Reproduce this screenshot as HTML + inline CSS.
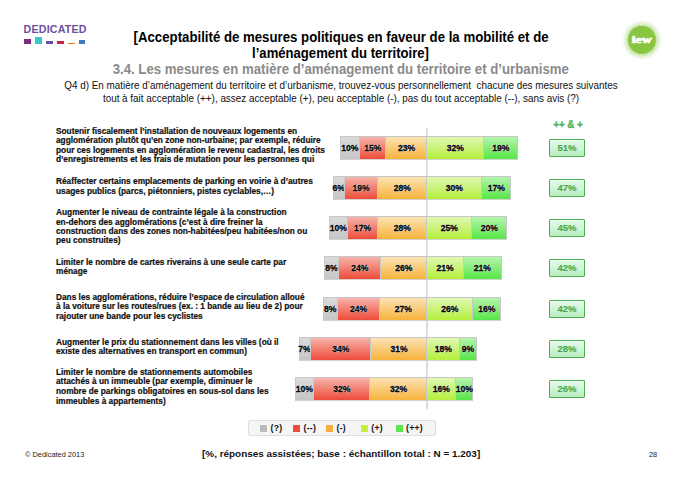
<!DOCTYPE html>
<html><head><meta charset="utf-8">
<style>
html,body{margin:0;padding:0;background:#fff;}
body{width:680px;height:477px;position:relative;overflow:hidden;font-family:"Liberation Sans",sans-serif;color:#000;}
.abs{position:absolute;white-space:nowrap;}
.logo{position:absolute;left:23.6px;top:23.9px;font-size:10.65px;line-height:10.65px;font-weight:bold;color:#6c509f;letter-spacing:0.19px;}
.sq{position:absolute;}
.title{position:absolute;left:0;width:681px;text-align:center;transform:scaleY(1.08);transform-origin:50% 3px;top:28.9px;font-size:13.1px;line-height:15.5px;font-weight:bold;white-space:nowrap;}
.sub{position:absolute;left:0;width:681.5px;text-align:center;top:62.8px;transform:scaleY(1.12);transform-origin:50% 11.2px;font-size:13.23px;line-height:13.23px;font-weight:bold;color:#8a8a8a;white-space:nowrap;}
.q{position:absolute;left:0;width:682px;text-align:center;top:79.5px;transform:scaleY(1.06);transform-origin:50% 3px;font-size:9.9px;line-height:12.3px;color:#111;white-space:nowrap;}
.vline{position:absolute;left:426px;top:128px;width:2px;height:281px;background:#dcdcdc;}
.seg{position:absolute;box-sizing:border-box;border:1px solid #c8c8c8;border-bottom-color:#d2d2d2;}
.pct{position:absolute;height:24px;line-height:25.4px;text-align:center;font-size:8.6px;font-weight:bold;color:#000;-webkit-text-stroke:0.3px #000;text-shadow:0 0 1.5px #fff,0 0 1px #fff;}
.g{background:linear-gradient(#dadada,#c6c6c6);}
.r{background:linear-gradient(#f6b3aa,#ee4c3a);}
.o{background:linear-gradient(#fde3b4,#f7b33c);}
.lg{background:linear-gradient(#e0f8b4,#b4ef3c);}
.gr{background:linear-gradient(#b4f4ac,#58e648);}
.hdr{position:absolute;left:540px;width:56px;text-align:center;top:119.2px;font-size:10px;letter-spacing:-0.1px;-webkit-text-stroke:0.25px #4fae52;line-height:11px;font-weight:bold;color:#4fae52;}
.tot span{display:inline-block;transform:scaleY(1.01);transform-origin:50% 70%;}
.tot{position:absolute;left:549px;width:36px;height:17.6px;box-sizing:border-box;border:1.5px solid #4cae50;border-radius:1px;background:linear-gradient(#e4fbe9,#d2f5d9 45%,#b9ebc0);box-shadow:inset 0 1px 0 rgba(255,255,255,0.6);padding-top:0.8px;text-align:center;font-size:9.5px;line-height:14.5px;font-weight:bold;color:#48aa4c;-webkit-text-stroke:0.15px #48aa4c;}
.lab{position:absolute;left:56px;font-size:8.3px;line-height:10px;font-weight:bold;white-space:nowrap;color:#111;-webkit-text-stroke:0.2px #111;}
.legend{position:absolute;left:247.8px;top:419.7px;width:188.5px;height:16.2px;box-sizing:border-box;border:1px solid #dedede;border-radius:2px;background:#f5f5f5;}
.lsq{position:absolute;top:425px;width:7px;height:7px;}
.ltx{position:absolute;top:423.3px;font-size:8.7px;line-height:11px;font-weight:bold;color:#111;letter-spacing:0.25px;}
.foot{position:absolute;font-size:7.4px;line-height:8px;color:#333;white-space:nowrap;}
.fmid{position:absolute;left:202px;top:449.3px;font-size:9.93px;line-height:10px;font-weight:bold;color:#111;white-space:nowrap;}
</style></head><body>
<div class="logo">DEDICATED</div>
<div class="sq" style="left:24px;top:39px;width:6.5px;height:5px;background:#7c2a7e"></div>
<div class="sq" style="left:35px;top:37.3px;width:6.8px;height:6.7px;background:#3ec6c6"></div>
<div class="sq" style="left:46px;top:40.6px;width:6.7px;height:3.4px;background:#6a4ea0"></div>
<div class="sq" style="left:56.8px;top:41.4px;width:6.8px;height:2.6px;background:#c8234a"></div>
<div class="sq" style="left:67.9px;top:42.7px;width:6.7px;height:1.5px;background:#ee7b22"></div>
<div class="sq" style="left:78.7px;top:39.9px;width:6.7px;height:4px;background:#3f78c2"></div>

<div class="title" style="top:29.2px;font-size:13.22px;left:0.6px">[Acceptabilité de mesures politiques en faveur de la mobilité et de</div>
<div class="title" style="top:44.9px">l’aménagement du territoire]</div>
<div class="sub">3.4. Les mesures en matière d’aménagement du territoire et d’urbanisme</div>
<div class="q">Q4 d) En matière d’aménagement du territoire et d’urbanisme, trouvez-vous personnellement &nbsp;chacune des mesures suivantes<br>tout à fait acceptable (++), assez acceptable (+), peu acceptable (-), pas du tout acceptable (--), sans avis (?)</div>

<svg style="position:absolute;left:618px;top:16px" width="48" height="48" viewBox="0 0 48 48">
  <defs><radialGradient id="hal" cx="24" cy="24" r="19.5" gradientUnits="userSpaceOnUse">
    <stop offset="0.66" stop-color="#8cc84a" stop-opacity="1"/>
    <stop offset="0.8" stop-color="#9ad060" stop-opacity="0.6"/>
    <stop offset="1" stop-color="#b6de8c" stop-opacity="0.1"/></radialGradient></defs>
  <circle cx="24" cy="24" r="19.5" fill="url(#hal)"/>
  <g stroke="#fff" stroke-width="0.8" opacity="0.8"><line x1="38.20" y1="24.00" x2="44.00" y2="24.00"/><line x1="38.12" y1="22.52" x2="43.89" y2="21.91"/><line x1="37.89" y1="21.05" x2="43.56" y2="19.84"/><line x1="37.51" y1="19.61" x2="43.02" y2="17.82"/><line x1="36.97" y1="18.22" x2="42.27" y2="15.87"/><line x1="36.30" y1="16.90" x2="41.32" y2="14.00"/><line x1="35.49" y1="15.65" x2="40.18" y2="12.24"/><line x1="34.55" y1="14.50" x2="38.86" y2="10.62"/><line x1="33.50" y1="13.45" x2="37.38" y2="9.14"/><line x1="32.35" y1="12.51" x2="35.76" y2="7.82"/><line x1="31.10" y1="11.70" x2="34.00" y2="6.68"/><line x1="29.78" y1="11.03" x2="32.13" y2="5.73"/><line x1="28.39" y1="10.49" x2="30.18" y2="4.98"/><line x1="26.95" y1="10.11" x2="28.16" y2="4.44"/><line x1="25.48" y1="9.88" x2="26.09" y2="4.11"/><line x1="24.00" y1="9.80" x2="24.00" y2="4.00"/><line x1="22.52" y1="9.88" x2="21.91" y2="4.11"/><line x1="21.05" y1="10.11" x2="19.84" y2="4.44"/><line x1="19.61" y1="10.49" x2="17.82" y2="4.98"/><line x1="18.22" y1="11.03" x2="15.87" y2="5.73"/><line x1="16.90" y1="11.70" x2="14.00" y2="6.68"/><line x1="15.65" y1="12.51" x2="12.24" y2="7.82"/><line x1="14.50" y1="13.45" x2="10.62" y2="9.14"/><line x1="13.45" y1="14.50" x2="9.14" y2="10.62"/><line x1="12.51" y1="15.65" x2="7.82" y2="12.24"/><line x1="11.70" y1="16.90" x2="6.68" y2="14.00"/><line x1="11.03" y1="18.22" x2="5.73" y2="15.87"/><line x1="10.49" y1="19.61" x2="4.98" y2="17.82"/><line x1="10.11" y1="21.05" x2="4.44" y2="19.84"/><line x1="9.88" y1="22.52" x2="4.11" y2="21.91"/><line x1="9.80" y1="24.00" x2="4.00" y2="24.00"/><line x1="9.88" y1="25.48" x2="4.11" y2="26.09"/><line x1="10.11" y1="26.95" x2="4.44" y2="28.16"/><line x1="10.49" y1="28.39" x2="4.98" y2="30.18"/><line x1="11.03" y1="29.78" x2="5.73" y2="32.13"/><line x1="11.70" y1="31.10" x2="6.68" y2="34.00"/><line x1="12.51" y1="32.35" x2="7.82" y2="35.76"/><line x1="13.45" y1="33.50" x2="9.14" y2="37.38"/><line x1="14.50" y1="34.55" x2="10.62" y2="38.86"/><line x1="15.65" y1="35.49" x2="12.24" y2="40.18"/><line x1="16.90" y1="36.30" x2="14.00" y2="41.32"/><line x1="18.22" y1="36.97" x2="15.87" y2="42.27"/><line x1="19.61" y1="37.51" x2="17.82" y2="43.02"/><line x1="21.05" y1="37.89" x2="19.84" y2="43.56"/><line x1="22.52" y1="38.12" x2="21.91" y2="43.89"/><line x1="24.00" y1="38.20" x2="24.00" y2="44.00"/><line x1="25.48" y1="38.12" x2="26.09" y2="43.89"/><line x1="26.95" y1="37.89" x2="28.16" y2="43.56"/><line x1="28.39" y1="37.51" x2="30.18" y2="43.02"/><line x1="29.78" y1="36.97" x2="32.13" y2="42.27"/><line x1="31.10" y1="36.30" x2="34.00" y2="41.32"/><line x1="32.35" y1="35.49" x2="35.76" y2="40.18"/><line x1="33.50" y1="34.55" x2="37.38" y2="38.86"/><line x1="34.55" y1="33.50" x2="38.86" y2="37.38"/><line x1="35.49" y1="32.35" x2="40.18" y2="35.76"/><line x1="36.30" y1="31.10" x2="41.32" y2="34.00"/><line x1="36.97" y1="29.78" x2="42.27" y2="32.13"/><line x1="37.51" y1="28.39" x2="43.02" y2="30.18"/><line x1="37.89" y1="26.95" x2="43.56" y2="28.16"/><line x1="38.12" y1="25.48" x2="43.89" y2="26.09"/></g>
  <circle cx="23.7" cy="23.6" r="13.7" fill="#89c541"/>
  <text transform="translate(23.7 27.2) scale(1.45 1)" text-anchor="middle" font-family="Liberation Serif" font-weight="bold" font-size="9.6" fill="#fff" stroke="#fff" stroke-width="0.7">iew</text>
</svg>

<div class="vline"></div>
<div class="hdr">++ &amp; +</div>
<div class="seg g" style="left:340px;top:136px;width:20px;height:24.4px"></div>
<div class="pct" style="left:330.00px;top:136px;width:39.50px">10%</div>
<div class="seg r" style="left:359px;top:136px;width:27px;height:24.4px"></div>
<div class="pct" style="left:349.50px;top:136px;width:46.50px">15%</div>
<div class="seg o" style="left:385px;top:136px;width:42px;height:24.4px"></div>
<div class="pct" style="left:376.00px;top:136px;width:61.00px">23%</div>
<div class="seg lg" style="left:426px;top:136px;width:58px;height:24.4px"></div>
<div class="pct" style="left:417.00px;top:136px;width:76.50px">32%</div>
<div class="seg gr" style="left:483px;top:136px;width:35px;height:24.4px"></div>
<div class="pct" style="left:473.50px;top:136px;width:54.50px">19%</div>
<div class="tot" style="top:139.3px"><span>51%</span></div>
<div class="lab" style="top:125.52px">Soutenir fiscalement l’installation de nouveaux logements en</div>
<div class="lab" style="top:135.12px">agglomération plutôt qu’en zone non-urbaine; par exemple, réduire</div>
<div class="lab" style="top:144.72px">pour ces logements en agglomération le revenu cadastral, les droits</div>
<div class="lab" style="top:154.32px">d’enregistrements et les frais de mutation pour les personnes qui</div>
<div class="seg g" style="left:333px;top:176px;width:12px;height:24.4px"></div>
<div class="pct" style="left:323.00px;top:176px;width:31.50px">6%</div>
<div class="seg r" style="left:344px;top:176px;width:34px;height:24.4px"></div>
<div class="pct" style="left:334.50px;top:176px;width:53.00px">19%</div>
<div class="seg o" style="left:377px;top:176px;width:50px;height:24.4px"></div>
<div class="pct" style="left:367.50px;top:176px;width:69.50px">28%</div>
<div class="seg lg" style="left:426px;top:176px;width:56px;height:24.4px"></div>
<div class="pct" style="left:417.00px;top:176px;width:74.50px">30%</div>
<div class="seg gr" style="left:481px;top:176px;width:30px;height:24.4px"></div>
<div class="pct" style="left:471.50px;top:176px;width:49.50px">17%</div>
<div class="tot" style="top:179.3px"><span>47%</span></div>
<div class="lab" style="top:176.12px">Réaffecter certains emplacements de parking en voirie à d’autres</div>
<div class="lab" style="top:185.52px">usages publics (parcs, piétonniers, pistes cyclables,…)</div>
<div class="seg g" style="left:329px;top:216px;width:19px;height:24.4px"></div>
<div class="pct" style="left:319.00px;top:216px;width:38.50px">10%</div>
<div class="seg r" style="left:347px;top:216px;width:31px;height:24.4px"></div>
<div class="pct" style="left:337.50px;top:216px;width:50.00px">17%</div>
<div class="seg o" style="left:377px;top:216px;width:50px;height:24.4px"></div>
<div class="pct" style="left:367.50px;top:216px;width:69.50px">28%</div>
<div class="seg lg" style="left:426px;top:216px;width:46px;height:24.4px"></div>
<div class="pct" style="left:417.00px;top:216px;width:64.50px">25%</div>
<div class="seg gr" style="left:471px;top:216px;width:36px;height:24.4px"></div>
<div class="pct" style="left:461.50px;top:216px;width:55.50px">20%</div>
<div class="tot" style="top:219.3px"><span>45%</span></div>
<div class="lab" style="top:207.22px">Augmenter le niveau de contrainte légale à la construction</div>
<div class="lab" style="top:216.62px">en-dehors des agglomérations (c’est à dire freiner la</div>
<div class="lab" style="top:226.02px">construction dans des zones non-habitées/peu habitées/non ou</div>
<div class="lab" style="top:235.42px">peu construites)</div>
<div class="seg g" style="left:324px;top:256px;width:15px;height:24.4px"></div>
<div class="pct" style="left:314.00px;top:256px;width:35.00px">8%</div>
<div class="seg r" style="left:338px;top:256px;width:43px;height:24.4px"></div>
<div class="pct" style="left:329.00px;top:256px;width:61.50px">24%</div>
<div class="seg o" style="left:380px;top:256px;width:47px;height:24.4px"></div>
<div class="pct" style="left:370.50px;top:256px;width:66.50px">26%</div>
<div class="seg lg" style="left:426px;top:256px;width:38px;height:24.4px"></div>
<div class="pct" style="left:417.00px;top:256px;width:56.00px">21%</div>
<div class="seg gr" style="left:463px;top:256px;width:39px;height:24.4px"></div>
<div class="pct" style="left:453.00px;top:256px;width:58.50px">21%</div>
<div class="tot" style="top:259.3px"><span>42%</span></div>
<div class="lab" style="top:257.12px">Limiter le nombre de cartes riverains à une seule carte par</div>
<div class="lab" style="top:266.12px">ménage</div>
<div class="seg g" style="left:323px;top:297px;width:15px;height:24.4px"></div>
<div class="pct" style="left:313.00px;top:297px;width:34.50px">8%</div>
<div class="seg r" style="left:337px;top:297px;width:43px;height:24.4px"></div>
<div class="pct" style="left:327.50px;top:297px;width:62.00px">24%</div>
<div class="seg o" style="left:379px;top:297px;width:48px;height:24.4px"></div>
<div class="pct" style="left:369.50px;top:297px;width:67.50px">27%</div>
<div class="seg lg" style="left:426px;top:297px;width:47px;height:24.4px"></div>
<div class="pct" style="left:417.00px;top:297px;width:65.50px">26%</div>
<div class="seg gr" style="left:472px;top:297px;width:29px;height:24.4px"></div>
<div class="pct" style="left:462.50px;top:297px;width:48.50px">16%</div>
<div class="tot" style="top:300.3px"><span>42%</span></div>
<div class="lab" style="top:291.72px">Dans les agglomérations, réduire l’espace de circulation alloué</div>
<div class="lab" style="top:301.12px">à la voiture sur les routes/rues (ex. : 1 bande au lieu de 2) pour</div>
<div class="lab" style="top:310.52px">rajouter une bande pour les cyclistes</div>
<div class="seg g" style="left:299px;top:337px;width:12px;height:24.4px"></div>
<div class="pct" style="left:288.50px;top:337px;width:32.00px">7%</div>
<div class="seg r" style="left:310px;top:337px;width:61px;height:24.4px"></div>
<div class="pct" style="left:300.50px;top:337px;width:80.50px">34%</div>
<div class="seg o" style="left:370px;top:337px;width:57px;height:24.4px"></div>
<div class="pct" style="left:361.00px;top:337px;width:76.00px">31%</div>
<div class="seg lg" style="left:426px;top:337px;width:34px;height:24.4px"></div>
<div class="pct" style="left:417.00px;top:337px;width:52.50px">18%</div>
<div class="seg gr" style="left:459px;top:337px;width:18px;height:24.4px"></div>
<div class="pct" style="left:449.50px;top:337px;width:37.00px">9%</div>
<div class="tot" style="top:340.3px"><span>28%</span></div>
<div class="lab" style="top:336.92px">Augmenter le prix du stationnement dans les villes (où il</div>
<div class="lab" style="top:346.32px">existe des alternatives en transport en commun)</div>
<div class="seg g" style="left:295px;top:377px;width:19px;height:24.4px"></div>
<div class="pct" style="left:285.00px;top:377px;width:38.50px">10%</div>
<div class="seg r" style="left:313px;top:377px;width:57px;height:24.4px"></div>
<div class="pct" style="left:303.50px;top:377px;width:76.50px">32%</div>
<div class="seg o" style="left:369px;top:377px;width:58px;height:24.4px"></div>
<div class="pct" style="left:360.00px;top:377px;width:77.00px">32%</div>
<div class="seg lg" style="left:426px;top:377px;width:30px;height:24.4px"></div>
<div class="pct" style="left:417.00px;top:377px;width:48.50px">16%</div>
<div class="seg gr" style="left:455px;top:377px;width:18px;height:24.4px"></div>
<div class="pct" style="left:445.50px;top:377px;width:37.50px">10%</div>
<div class="tot" style="top:380.3px"><span>26%</span></div>
<div class="lab" style="top:366.72px">Limiter le nombre de stationnements automobiles</div>
<div class="lab" style="top:376.32px">attachés à un immeuble (par exemple, diminuer le</div>
<div class="lab" style="top:385.92px">nombre de parkings obligatoires en sous-sol dans les</div>
<div class="lab" style="top:395.52px">immeubles à appartements)</div>

<div class="legend"></div>
<div class="lsq" style="left:260px;background:#b9b9b9"></div>
<div class="ltx" style="left:270.5px">(?)</div>
<div class="lsq" style="left:293px;background:#ee4c3a"></div>
<div class="ltx" style="left:303.5px">(--)</div>
<div class="lsq" style="left:326px;background:#f7ad3c"></div>
<div class="ltx" style="left:336.5px">(-)</div>
<div class="lsq" style="left:360.5px;background:#c0ef40"></div>
<div class="ltx" style="left:371.3px">(+)</div>
<div class="lsq" style="left:396px;background:#5ce64c"></div>
<div class="ltx" style="left:406px">(++)</div>

<div class="foot" style="left:25px;top:451px;color:#222">© Dedicated 2013</div>
<div class="fmid">[%, réponses assistées; base : échantillon total : N = 1.203]</div>
<div class="foot" style="left:649px;top:450.5px;color:#222">28</div>
</body></html>
